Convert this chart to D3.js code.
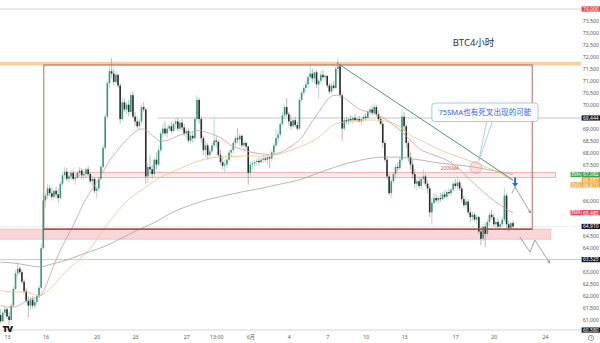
<!DOCTYPE html>
<html>
<head>
<meta charset="utf-8">
<script src="https://cdn.jsdelivr.net/npm/d3@7"></script>
<style>
  html, body { margin: 0; padding: 0; background: #fff; }
  svg { display: block; font-family: "Noto Sans", "Noto Sans CJK SC", sans-serif; }
</style>
</head>
<body>
<svg id="chart" width="600" height="343"></svg>
<script>
// ---------------- data: BTC/USD 4h candles ----------------
const candleStart = "2024-05-12T12:00:00Z";
const candleHours = 4;

const candleOpen = [
  61200,60950,61300,61450,61150,61000,61600,62300,62950,63150,
  63000,62600,62200,61800,61600,61850,61600,61750,62000,62350,
  64000,66000,66200,66500,66300,66150,66400,66250,66100,66700,
  67050,67200,66900,67000,67150,66900,66950,67150,67250,67050,
  67100,67300,67100,66800,66900,66400,66500,66900,67400,68200,
  69500,70900,71400,71300,70950,71250,70800,69400,70100,69800,
  70000,69700,70400,69500,69300,69100,69300,69900,69800,67000,
  67400,67300,67100,67700,67500,68100,68800,69000,68800,69000,
  69100,68900,69200,69300,69000,69250,69050,68800,68900,68500,
  68700,68600,69400,70200,69400,68600,68100,68300,67900,68050,
  68300,68500,68450,67900,67600,67450,67500,67700,68000,68100,
  68400,68600,68550,68700,68300,68400,68250,67150,67500,67550,
  67600,67650,67600,67700,67750,67700,67800,67750,68000,68300,
  68600,68750,69200,69550,69900,69600,69300,69100,69350,69150,
  69000,70200,70500,70700,70850,71150,71300,71100,71350,70850,
  71000,71250,71150,71200,70800,70550,70800,70700,71500,71600,
  70400,69000,69350,69300,69400,69350,69450,69350,69400,69300,
  69400,69500,69450,69700,69800,69650,69900,69600,69400,69200,
  68400,67700,67000,66300,66800,67100,67400,67350,67700,69500,
  69100,68400,67800,67500,67100,66700,66800,66600,66900,67000,
  66700,66500,65500,65900,66100,66000,66100,66050,66250,66150,
  66350,66300,66450,66700,66600,66750,66500,66050,65800,65950,
  65500,65300,65400,65200,65300,64700,64400,64900,64600,65100,
  65400,65300,65000,65100,64900,65000,65200,66200,65000,64850,
  65050
];
const candleHigh = [
  61450,61400,61550,61500,61350,61700,62400,63100,63420,63250,
  63100,62700,62350,62000,61950,62000,61900,62100,62450,64200,
  66200,66300,66700,66650,66550,66450,66600,66500,66800,67200,
  67400,67350,67100,67300,67250,67100,67250,67400,67350,67200,
  67350,67450,67200,67000,66950,66600,67000,67500,68300,69600,
  71000,71600,71950,71500,71400,71300,70900,70300,70250,70100,
  70200,70500,70550,69700,69500,69400,70000,70100,69850,67600,
  67900,67500,67800,68000,68300,68900,69200,69300,69100,69200,
  69300,69250,69400,69450,69350,69400,69200,69000,69000,68800,
  68850,69500,70400,70300,69500,68700,68500,68400,68200,68400,
  69480,68700,68500,68100,67800,67700,67800,68100,68200,68500,
  68700,69025,68800,68750,68500,68450,68300,67600,67650,67700,
  67750,67800,67800,67900,67850,67900,67850,68100,68400,69000,
  68900,69300,69700,70000,70280,69700,69550,69400,69500,69300,
  70300,70600,70800,71000,71200,71660,71500,71400,71450,71050,
  71400,71450,71300,71250,70900,70900,71000,71600,71950,71700,
  70500,69450,69500,69450,69550,69500,69600,69500,69550,69450,
  69600,69650,69800,69900,69950,70070,70000,69750,69500,69300,
  68500,67800,67100,66900,67200,67500,67600,67800,69800,69700,
  69200,68500,68000,67700,67300,66900,67000,66950,67300,67100,
  66850,66600,66100,66300,66250,66200,66300,66350,66400,66450,
  66500,66550,66800,66900,67000,66850,66600,66200,66100,66050,
  65700,65550,65500,65400,65350,64900,65000,65050,65200,65500,
  65600,65450,65200,65250,65100,65300,66520,66300,65150,65100,
  65150
];
const candleLow = [
  60850,60900,61100,61050,60790,60950,61550,62250,62800,62900,
  62500,62100,61700,61120,61400,61500,61450,61650,61900,62300,
  63950,65700,66050,66150,66000,66050,66100,65900,66050,66600,
  66900,66800,66700,66850,66800,66650,66900,67000,66900,66850,
  66950,67000,66700,66600,66300,66100,66400,66850,67350,68100,
  69400,70700,71100,70800,70850,70700,69200,69300,69700,69600,
  69500,69600,69400,69100,69000,68950,69200,69700,66700,66720,
  67100,66900,67000,67300,67400,68000,68600,68700,68600,68900,
  68800,68850,69000,68900,68900,68900,68700,68600,68400,68350,
  68400,68550,69300,69200,68400,67900,67800,67700,67750,67950,
  68200,68200,67800,67500,67300,67190,67350,67600,67800,67950,
  68250,68400,68300,68200,68000,68100,66640,67000,67300,67400,
  67450,67500,67550,67550,67600,67500,67350,67600,67900,68200,
  68400,68650,69100,69400,69500,69100,68950,69000,69050,68900,
  68950,70100,70400,70550,70700,71000,70950,70900,70700,70280,
  70900,71050,70950,70700,70450,70450,70650,70650,71300,70300,
  68500,68900,69200,69150,69250,69200,69300,69250,69300,69150,
  69300,69350,69400,69550,69550,69600,69500,69300,69150,68200,
  67600,66900,66200,66100,66700,66900,67200,67250,67600,68900,
  68200,67600,67300,66900,66500,66400,66500,66450,66700,66600,
  66300,65300,64970,65800,65900,65850,65950,66000,66050,66100,
  66200,66200,66350,66500,66450,66400,65900,65700,65650,65400,
  65090,65150,65100,65000,64600,64130,64300,64050,64500,64950,
  65200,64900,64850,64800,64800,64900,65100,64800,64700,64750,
  64850
];
const candleClose = [
  60950,61300,61450,61150,61000,61600,62300,62950,63150,63000,
  62600,62200,61800,61600,61850,61600,61750,62000,62350,64000,
  66000,66200,66500,66300,66150,66400,66250,66100,66700,67050,
  67200,66900,67000,67150,66900,66950,67150,67250,67050,67100,
  67300,67100,66800,66900,66400,66500,66900,67400,68200,69500,
  70900,71400,71300,70950,71250,70800,69400,70100,69800,70000,
  69700,70400,69500,69300,69100,69300,69900,69800,67000,67400,
  67300,67100,67700,67500,68100,68800,69000,68800,69000,69100,
  68900,69200,69300,69000,69250,69050,68800,68900,68500,68700,
  68600,69400,70200,69400,68600,68100,68300,67900,68050,68300,
  68500,68450,67900,67600,67450,67500,67700,68000,68100,68400,
  68600,68550,68700,68300,68400,68250,67150,67500,67550,67600,
  67650,67600,67700,67750,67700,67800,67750,68000,68300,68600,
  68750,69200,69550,69900,69600,69300,69100,69350,69150,69000,
  70200,70500,70700,70850,71150,71300,71100,71350,70850,71000,
  71250,71150,71200,70800,70550,70800,70700,71500,71600,70400,
  69000,69350,69300,69400,69350,69450,69350,69400,69300,69400,
  69500,69450,69700,69800,69650,69900,69600,69400,69200,68400,
  67700,67000,66300,66800,67100,67400,67350,67700,69500,69100,
  68400,67800,67500,67100,66700,66800,66600,66900,67000,66700,
  66500,65500,65900,66100,66000,66100,66050,66250,66150,66350,
  66300,66450,66700,66600,66750,66500,66050,65800,65950,65500,
  65300,65400,65200,65300,64700,64400,64900,64600,65100,65400,
  65300,65000,65100,64900,65000,65200,66200,65000,64850,65050,
  64910
];

// moving averages, sampled from the first candle onward
const maFastStepHours = 12;
const maFast = [
  61620,61540,61540,61620,61800,61900,61960,62380,63070,63730,
  64270,64780,65320,65910,66350,66750,67200,67650,68010,68340,
  68620,68860,68990,68880,68640,68470,68510,68620,68730,68800,
  68870,68930,68860,68770,68670,68500,68290,68180,68100,68020,
  67970,67930,67910,67950,68040,68200,68380,68620,69030,69440,
  69820,70200,70390,70400,70220,70010,69810,69720,69660,69540,
  69410,69220,69020,68780,68510,68240,68060,67960,67860,67760,
  67630,67430,67210,66940,66690,66450,66210,66000,65810,65620,
  65485
];
const maMidStepHours = 24;
const maMid = [
  62250,62170,62170,62020,62380,62980,63460,63990,64760,65450,
  66040,66430,66810,67100,67330,67560,67730,67810,67830,67850,
  67850,67850,67980,68170,68380,68710,69170,69280,69340,69360,
  69320,69130,68730,68460,68190,67960,67770,67580,67370,67140,
  66815
];
const maSlowStepHours = 24;
const maSlow = [
  63420,63380,63300,63220,63340,63480,63670,63860,64050,64300,
  64570,64840,65070,65380,65640,65830,66010,66140,66260,66370,
  66470,66580,66700,66810,66980,67190,67370,67540,67670,67770,
  67810,67810,67750,67670,67580,67520,67460,67390,67290,67200,
  67082
];

// axes
const priceTicks = [73500,73000,72500,72000,71500,71000,70500,70000,69000,68500,68000,67500,
                    66000,64500,64000,63000,62500,62000,61500,61000];
const timeTickDates = ["2024-05-13T00:00Z","2024-05-16T00:00Z","2024-05-20T00:00Z","2024-05-23T00:00Z",
  "2024-05-27T00:00Z","2024-05-29T08:00Z","2024-06-01T00:00Z","2024-06-04T00:00Z","2024-06-07T00:00Z",
  "2024-06-10T00:00Z","2024-06-13T00:00Z","2024-06-17T00:00Z","2024-06-20T00:00Z","2024-06-24T00:00Z"];
const timeTickLabels = ["13","16","20","23","27","13:00","6月","4","7","10","13","17","20","24"];

// price-scale badges
const plainBadgeValues = [74000, 69444, 64910, 63525, 60580];
const plainBadgeColors = ["#e0434f", "#131722", "#131722", "#131722", "#131722"];
const maBadgeValues = [67082, 66887, 66815, 65485];
const maBadgeTags = ["EMA", "", "EMA", "EMA"];
const maBadgeColors = ["#4a9e4e", "#f2a33a", "#f2a33a", "#e0435a"];

// ---------------- chart ----------------
const svg = d3.select("#chart");
const parse = d3.isoParse;
const t0 = parse(candleStart).getTime();
const HOUR = 3600e3;

const x = d3.scaleUtc()
  .domain([parse("2024-05-13T00:00Z"), parse("2024-06-24T00:00Z")])
  .range([7, 545]);
const y = d3.scaleLinear().domain([61000, 74000]).range([320, 9]);

const candles = candleOpen.map((o, i) => ({
  t: new Date(t0 + i * candleHours * HOUR),
  o, h: candleHigh[i], l: candleLow[i], c: candleClose[i]
}));

const lineLeft = parse("2024-05-12T10:00Z");
const lineRight = parse("2024-06-26T20:00Z");

// top resistance band
svg.append("rect")
  .attr("x", x(lineLeft)).attr("width", x(lineRight) - x(lineLeft))
  .attr("y", y(71790)).attr("height", y(71640) - y(71790))
  .attr("fill", "#f4cfa4");

// support zone under the range
const supEnd = parse("2024-06-24T11:00Z");
svg.append("rect")
  .attr("x", x(lineLeft)).attr("width", x(supEnd) - x(lineLeft))
  .attr("y", y(64800)).attr("height", y(64380) - y(64800))
  .attr("fill", "#fad6d9").attr("stroke", "#eaa3aa").attr("stroke-width", 0.6);

// 200SMA zone
const smaStart = parse("2024-05-17T16:00Z"), smaEnd = parse("2024-06-24T20:00Z");
svg.append("rect")
  .attr("x", x(smaStart)).attr("width", x(smaEnd) - x(smaStart))
  .attr("y", y(67165)).attr("height", y(66955) - y(67165))
  .attr("fill", "#fdeaea").attr("stroke", "#ec9a9a").attr("stroke-width", 0.7);

// horizontal price lines
function hline(price, from, color, dash, w) {
  svg.append("line")
    .attr("x1", x(from)).attr("x2", x(lineRight))
    .attr("y1", y(price)).attr("y2", y(price))
    .attr("stroke", color).attr("stroke-width", w || 0.8)
    .attr("stroke-dasharray", dash || null);
}
hline(74000, lineLeft, "#c9c9c9");
hline(60580, lineLeft, "#c9c9c9");
hline(63525, lineLeft, "#bdbdbd");
hline(69444, parse("2024-05-24T19:00Z"), "#b8b8b8");
hline(64910, lineLeft, "#cfcfcf", "1,1.5");

// candles
const upColor = "#3a957f", downColor = "#2b2b2b";
const cg = svg.append("g");
cg.selectAll("line.wick").data(candles).join("line")
  .attr("class", "wick")
  .attr("x1", d => x(d.t)).attr("x2", d => x(d.t))
  .attr("y1", d => y(d.h)).attr("y2", d => y(d.l))
  .attr("stroke", d => d.c >= d.o ? "#8fbfb3" : "#8a8a8a")
  .attr("stroke-width", 0.6);
cg.selectAll("rect.body").data(candles).join("rect")
  .attr("class", "body")
  .attr("x", d => x(d.t) - 0.8).attr("width", 1.6)
  .attr("y", d => y(Math.max(d.o, d.c)))
  .attr("height", d => Math.max(0.8, Math.abs(y(d.o) - y(d.c))))
  .attr("fill", d => d.c >= d.o ? upColor : downColor);

// moving averages
function maLine(values, stepHours, color, w) {
  const pts = values.map((v, i) => [new Date(t0 + i * stepHours * HOUR), v]);
  svg.append("path")
    .attr("d", d3.line().x(d => x(d[0])).y(d => y(d[1])).curve(d3.curveMonotoneX)(pts))
    .attr("fill", "none").attr("stroke", color).attr("stroke-width", w);
}
maLine(maSlow, maSlowStepHours, "#9aa79a", 0.8);
maLine(maMid, maMidStepHours, "#e8c28e", 0.8);
maLine(maFast, maFastStepHours, "#cc9a9d", 0.8);

// range box
const boxStart = parse("2024-05-15T21:00Z"), boxEnd = parse("2024-06-23T00:00Z");
svg.append("rect")
  .attr("x", x(boxStart)).attr("width", x(boxEnd) - x(boxStart))
  .attr("y", y(71660)).attr("height", y(64800) - y(71660))
  .attr("fill", "none").attr("stroke", "#b4574d").attr("stroke-width", 0.9);
svg.append("line")
  .attr("x1", x(boxStart)).attr("x2", x(boxEnd))
  .attr("y1", y(64800)).attr("y2", y(64800))
  .attr("stroke", "#a24444").attr("stroke-width", 1.3);

// descending trend line
const trend = [[parse("2024-06-07T18:00Z"), 71750], [parse("2024-06-21T12:00Z"), 66850]];
svg.append("line")
  .attr("x1", x(trend[0][0])).attr("y1", y(trend[0][1]))
  .attr("x2", x(trend[1][0])).attr("y2", y(trend[1][1]))
  .attr("stroke", "#3c8a6c").attr("stroke-width", 0.9);

// projected paths
const defs = svg.append("defs");
defs.append("marker").attr("id", "head").attr("viewBox", "0 0 10 10")
  .attr("refX", 9).attr("refY", 5).attr("markerWidth", 5).attr("markerHeight", 5)
  .attr("orient", "auto")
  .append("path").attr("d", "M1,1 L9,5 L1,9").attr("fill", "none")
  .attr("stroke", "#666").attr("stroke-width", 1.3);
const path1 = [["2024-06-21T10:00Z", 66300], ["2024-06-21T16:00Z", 66560], ["2024-06-22T21:00Z", 65470]];
const path2 = [["2024-06-22T01:00Z", 64470], ["2024-06-22T20:00Z", 63840], ["2024-06-23T05:00Z", 64340], ["2024-06-24T09:00Z", 63380]];
[path1, path2].forEach(p => {
  svg.append("path")
    .attr("d", d3.line().x(d => x(parse(d[0]))).y(d => y(d[1]))(p))
    .attr("fill", "none").attr("stroke", "#777").attr("stroke-width", 0.7)
    .attr("marker-end", "url(#head)");
});

// blue down arrow
const arrowT = parse("2024-06-21T16:00Z");
const ax = x(arrowT), ayTop = y(66960), ayBot = y(66560);
svg.append("path")
  .attr("d", `M${ax - 1},${ayTop} L${ax + 1},${ayTop} L${ax + 1},${ayBot - 4} L${ax + 3},${ayBot - 4} L${ax},${ayBot} L${ax - 3},${ayBot - 4} L${ax - 1},${ayBot - 4} Z`)
  .attr("fill", "#2f63e8");

// cross marker circle
const cross = [parse("2024-06-18T14:30Z"), 67373];
svg.append("circle")
  .attr("cx", x(cross[0])).attr("cy", y(cross[1])).attr("r", 6)
  .attr("fill", "rgba(240,150,150,0.28)").attr("stroke", "#e6a0a0").attr("stroke-width", 0.7);

// 200SMA tag
svg.append("text")
  .attr("x", x(parse("2024-06-16T14:00Z"))).attr("y", y(67270))
  .attr("text-anchor", "middle").attr("font-size", 4.8).attr("fill", "#d9504f")
  .text("200SMA");

// callout
const cL = x(parse("2024-06-15T04:00Z")), cR = x(parse("2024-06-23T11:00Z"));
const cT = y(70070), cB = y(69296);
const tip = [x(parse("2024-06-18T20:00Z")), y(67660)];
const b1 = x(parse("2024-06-19T11:00Z")), b2 = x(parse("2024-06-19T22:00Z"));
svg.append("path")
  .attr("d", `M${b1},${cB - 1} L${tip[0]},${tip[1]} L${b2},${cB - 1}`)
  .attr("fill", "#fff").attr("stroke", "#86bde6").attr("stroke-width", 0.7);
svg.append("rect")
  .attr("x", cL).attr("y", cT).attr("width", cR - cL).attr("height", cB - cT)
  .attr("rx", 3).attr("fill", "#fff").attr("stroke", "#86bde6").attr("stroke-width", 0.8);
svg.append("text")
  .attr("x", (cL + cR) / 2).attr("y", (cT + cB) / 2 + 2.7)
  .attr("text-anchor", "middle").attr("font-size", 7.6).attr("fill", "#2f63e8")
  .text("75SMA也有死叉出现的可能");

// title
svg.append("text")
  .attr("x", x(parse("2024-06-16T19:00Z"))).attr("y", y(72460))
  .attr("font-size", 9.5).attr("fill", "#333")
  .text("BTC4小时");

// price axis
const yAxis = d3.axisRight(y).tickValues(priceTicks).tickSize(0).tickPadding(0)
  .tickFormat(d3.format(","));
const yg = svg.append("g").attr("transform", "translate(590.8,0)").call(yAxis);
yg.select(".domain").remove();
yg.selectAll("text").attr("text-anchor", "middle").attr("font-size", 5.2)
  .attr("fill", "#555").attr("font-family", "Noto Sans, sans-serif");

// time axis
const xAxis = d3.axisBottom(x).tickValues(timeTickDates.map(parse)).tickSize(0).tickPadding(0)
  .tickFormat((d, i) => timeTickLabels[i]);
const xg = svg.append("g").attr("transform", "translate(0,335.6)").call(xAxis);
xg.select(".domain").remove();
xg.selectAll("text").attr("font-size", 5.2).attr("fill", "#555")
  .attr("font-family", "Noto Sans, \"Noto Sans CJK SC\", sans-serif");

// clock icon
const clock = svg.append("g").attr("transform", "translate(591,338)");
clock.append("circle").attr("r", 2.6).attr("fill", "none").attr("stroke", "#666").attr("stroke-width", 0.6);
clock.append("path").attr("d", "M0,-1.5 L0,0 L1.1,0.8").attr("fill", "none").attr("stroke", "#666").attr("stroke-width", 0.6);

// badges on the price scale
function badge(value, cy, color, tag) {
  const g = svg.append("g").attr("transform", `translate(0,${cy})`);
  if (tag) {
    g.append("rect").attr("x", 570.5).attr("y", -2.6).attr("width", 11).attr("height", 5.2).attr("fill", color);
    g.append("text").attr("x", 576).attr("y", 1.7).attr("text-anchor", "middle")
      .attr("font-size", 4.4).attr("fill", "#fff").text(tag);
  }
  g.append("rect").attr("x", 581.6).attr("y", -2.6).attr("width", 18.4).attr("height", 5.2).attr("fill", color);
  g.append("text").attr("x", 590.8).attr("y", 1.8).attr("text-anchor", "middle")
    .attr("font-size", 5).attr("fill", "#fff").text(d3.format(",")(value));
}
plainBadgeValues.forEach((v, i) => badge(v, y(v), plainBadgeColors[i], ""));
let lastY = -Infinity;
maBadgeValues.forEach((v, i) => {
  const cy = Math.max(y(v), lastY + 5.2);
  lastY = cy;
  badge(v, cy, maBadgeColors[i], maBadgeTags[i]);
});

// TradingView mark
svg.append("text").attr("x", 2.5).attr("y", 331.5).attr("font-size", 9)
  .attr("font-weight", 900).attr("fill", "#131722").attr("letter-spacing", -1)
  .text("TV");
</script>
</body>
</html>
